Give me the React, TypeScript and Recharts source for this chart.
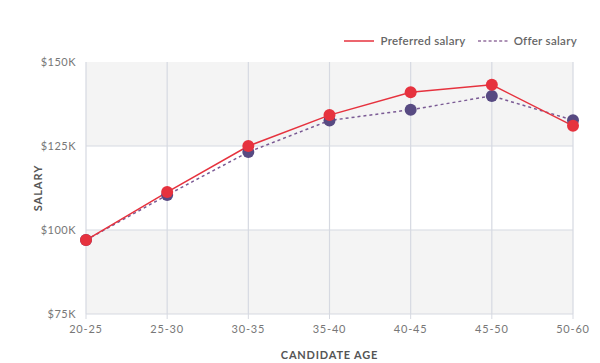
import { LineChart, Line, XAxis, YAxis, CartesianGrid } from "recharts"

const AGES = ["20-25", "25-30", "30-35", "35-40", "40-45", "45-50", "50-60"]
const PREFERRED = [97.0, 111.3, 125.0, 134.2, 141.0, 143.2, 131.0]
const OFFER = [97.0, 110.4, 123.2, 132.6, 135.8, 139.9, 132.7]
const Y_TICKS = [75000, 100000, 125000, 150000]
const GRID_LINES = [100000, 125000]

const RED = "#e6323e"
const PURPLE_LINE = "#7a5a94"
const PURPLE_DOT = "#574a82"
const GRID = "#d6d9e1"
const FONT = "Lato, 'Open Sans', sans-serif"

const data = AGES.map((age, i) => ({
  age,
  preferred: PREFERRED[i] * 1000,
  offer: OFFER[i] * 1000,
}))

const fmtK = (v: number) => `$${v / 1000}K`

function ChartLegend() {
  return (
    <div style={{ position: "absolute", top: 34, right: 23, display: "flex", alignItems: "center", fontFamily: FONT, fontSize: 11.5, color: "#666", fontWeight: 600, letterSpacing: 0.3 }}>
      <svg width={30} height={4} style={{ marginRight: 6 }}>
        <line x1={0} y1={2} x2={30} y2={2} stroke={RED} strokeWidth={1.5} />
      </svg>
      <span style={{ marginRight: 12 }}>Preferred salary</span>
      <svg width={31} height={4} style={{ marginRight: 5 }}>
        <line x1={0} y1={2} x2={31} y2={2} stroke="#94709f" strokeWidth={1.5} strokeDasharray="3 2.3" />
      </svg>
      <span>Offer salary</span>
    </div>
  )
}

export default function App() {
  return (
    <div style={{ position: "absolute", left: 0, top: 0, width: 600, height: 363, background: "#fff" }}>
      <LineChart width={600} height={363} data={data} margin={{ top: 62, right: 27, left: 0, bottom: 0 }}>
        <CartesianGrid stroke="transparent" vertical={false} horizontalFill={["#f4f4f4", "#ffffff"]} fillOpacity={1} />
        <CartesianGrid stroke={GRID} strokeWidth={1.2} horizontalValues={GRID_LINES} />
        <XAxis
          dataKey="age"
          height={49}
          stroke={GRID}
          tick={{ fontSize: 11, fill: "#777", fontFamily: FONT, letterSpacing: 0.8 }}
          tickLine={{ stroke: GRID }}
          tickSize={5}
          tickMargin={6}
          label={{ value: "CANDIDATE AGE", position: "insideBottom", offset: 4, fill: "#555", fontSize: 11, fontWeight: 700, fontFamily: FONT, letterSpacing: 0.8 }}
        />
        <YAxis
          width={86}
          domain={[75000, 150000]}
          ticks={Y_TICKS}
          tickFormatter={fmtK}
          axisLine={false}
          tickLine={false}
          tickMargin={4}
          tick={{ fontSize: 11, fill: "#777", fontFamily: FONT, letterSpacing: 0.5 }}
          label={{ value: "SALARY", angle: -90, position: "center", dx: -5, fill: "#555", fontSize: 11, fontWeight: 700, fontFamily: FONT, letterSpacing: 1 }}
        />
        <Line
          dataKey="offer"
          name="Offer salary"
          stroke={PURPLE_LINE}
          strokeWidth={1.5}
          strokeDasharray="3 3"
          dot={{ r: 6, fill: PURPLE_DOT, stroke: PURPLE_DOT, strokeWidth: 0 }}
          isAnimationActive={false}
        />
        <Line
          dataKey="preferred"
          name="Preferred salary"
          stroke={RED}
          strokeWidth={1.5}
          dot={{ r: 6, fill: RED, stroke: RED, strokeWidth: 0 }}
          isAnimationActive={false}
        />
      </LineChart>
      <ChartLegend />
    </div>
  )
}
